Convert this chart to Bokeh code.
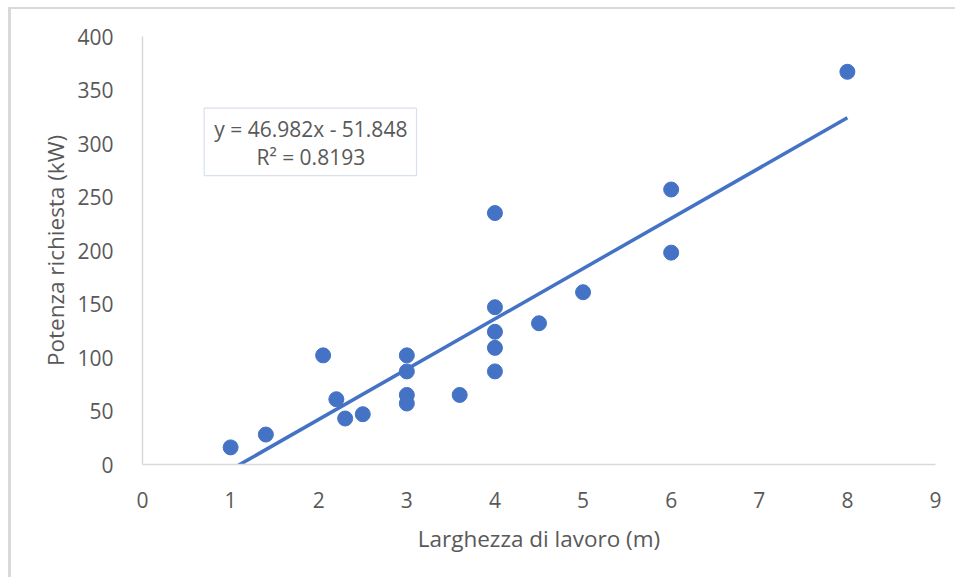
from bokeh.plotting import figure
from bokeh.models import ColumnDataSource, BoxAnnotation, Label, FixedTicker
from bokeh.embed import file_html
from bokeh.resources import INLINE

# Working width (m) vs. required power (kW)
larghezza = [1, 1.4, 2.05, 2.2, 2.3, 2.5, 3, 3, 3, 3, 3.6,
             4, 4, 4, 4, 4, 4.5, 5, 6, 6, 8]
potenza = [16, 28, 102, 61, 43, 47, 102, 87, 65, 57, 65,
           235, 147, 124, 109, 87, 132, 161, 257, 198, 367]

# Linear trend line coefficients
slope = 46.982
intercept = -51.848
r2 = 0.8193

x_ticks = [0, 1, 2, 3, 4, 5, 6, 7, 8, 9]
y_ticks = [0, 50, 100, 150, 200, 250, 300, 350, 400]

FONT = "Open Sans"
TXT = "#595959"
BLUE = "#4472C4"
AXIS = "#d9d9d9"

p = figure(width=947, height=570, x_range=(0, 9), y_range=(0, 400),
           output_backend="svg", toolbar_location=None,
           min_border_left=131, min_border_right=23,
           min_border_top=27, min_border_bottom=115)
p.styles = {"border-top": "2px solid #d9d9d9", "border-left": "3px solid #d9d9d9",
            "margin-left": "8px", "margin-top": "7px"}
p.outline_line_color = None
p.xgrid.visible = False
p.ygrid.visible = False
p.background_fill_color = "white"
p.border_fill_color = "white"

for ax in (p.xaxis, p.yaxis):
    ax.axis_line_color = AXIS
    ax.axis_line_width = 1.5
    ax.major_tick_line_color = None
    ax.minor_tick_line_color = None
    ax.major_label_text_font = FONT
    ax.major_label_text_font_size = "21px"
    ax.major_label_text_color = TXT
    ax.axis_label_text_font = FONT
    ax.axis_label_text_font_size = "22.5px"
    ax.axis_label_text_color = TXT
    ax.axis_label_text_font_style = "normal"

p.xaxis.ticker = FixedTicker(ticks=x_ticks)
p.yaxis.ticker = FixedTicker(ticks=y_ticks)
p.xaxis.major_label_standoff = 21
p.yaxis.major_label_standoff = 23
p.xaxis.axis_label = "Larghezza di lavoro (m)"
p.yaxis.axis_label = "Potenza richiesta (kW)"
p.xaxis.axis_label_standoff = 12
p.yaxis.axis_label_standoff = 3

# Trend line over the observed x-span
x0, x1 = min(larghezza), max(larghezza)
p.line([x0, x1], [slope * x0 + intercept, slope * x1 + intercept],
       line_color=BLUE, line_width=3.5)

src = ColumnDataSource(dict(x=larghezza, y=potenza))
p.scatter("x", "y", source=src, size=15, fill_color=BLUE, line_color=BLUE)

# Equation box
p.add_layout(BoxAnnotation(left=0.70, right=3.11, bottom=270, top=333,
                           fill_color="white", fill_alpha=1,
                           line_color="#7F9CC0", line_width=1.2))
sign = "-" if intercept < 0 else "+"
eq = f"y = {slope}x {sign} {abs(intercept)}"
p.add_layout(Label(x=1.91, y=314, text=eq, text_align="center",
                   text_baseline="middle", text_font=FONT,
                   text_font_size="21px", text_color=TXT))
p.add_layout(Label(x=1.91, y=287, text=f"R² = {r2}", text_align="center",
                   text_baseline="middle", text_font=FONT,
                   text_font_size="21px", text_color=TXT))

open("out.html", "w").write(file_html(p, INLINE))
